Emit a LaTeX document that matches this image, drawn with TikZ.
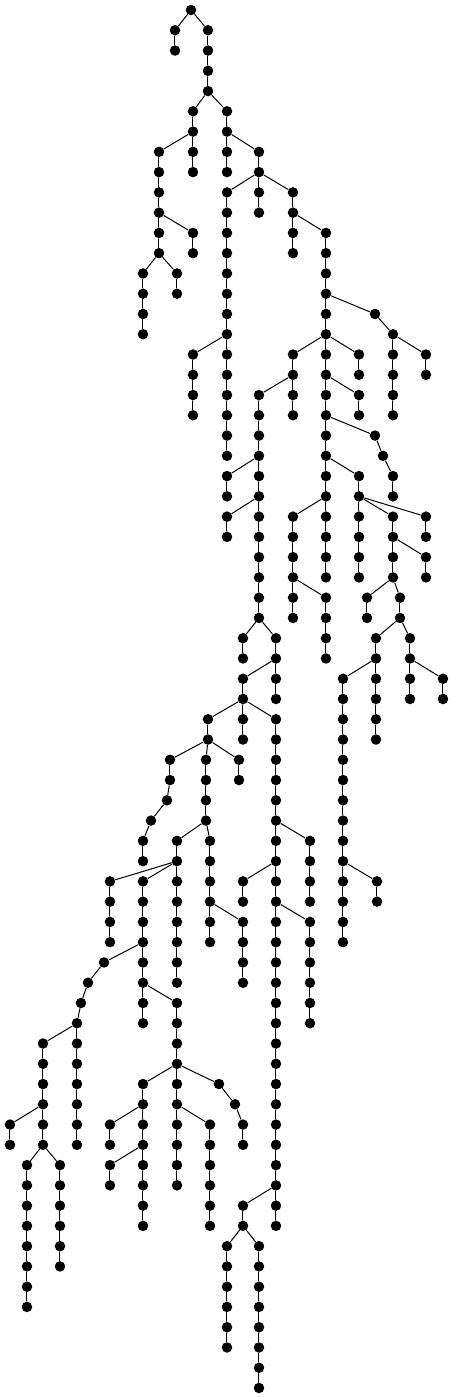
\documentclass[tikz,border=0pt]{standalone}
\begin{document}
\begin{tikzpicture}[x=1pt,y=-20.265pt,line width=1pt,line cap=round,
	dot/.style={circle,fill=black,inner sep=0pt,minimum size=10.5pt}]
	\useasboundingbox (0,-0.4935) rectangle (454,68.4935);
	\foreach \x/\a/\b in {191/0/0,175/1/2,208/1/4,193/5/8,227/5/8,259/7/10,159/7/12,193/11/12,
		143/13/16,177/13/14,227/9/22,193/17/20,293/9/12,326/11/28,375/15/15,393/16/20,426/17/18,
		359/17/18,293/17/20,259/19/30,227/23/24,227/25/26,359/19/20,375/21/21,383/22/22,393/23/24,
		359/23/28,426/25/26,393/25/28,426/27/28,367/29/30,400/29/30,376/31/36,410/31/34,443/33/34,
		343/33/46,377/43/44,293/25/30,326/29/32,243/31/32,276/31/34,243/33/36,208/35/36,239/37/38,
		170/37/38,167/39/39,151/40/40,143/41/42,206/37/40,177/41/48,110/43/46,143/43/50,210/41/46,
		243/45/48,104/47/47,88/48/48,81/49/49,77/50/56,43/51/56,10/55/56,27/57/64,60/57/62,
		177/49/58,143/53/60,110/55/56,110/57/58,210/55/60,219/53/53,235/54/54,243/55/56,
		276/35/60,310/41/44,243/43/44,310/45/50,243/59/60,227/61/66,259/61/68}{
		\foreach \l in {\a,...,\b}{
			\node[dot] (n\x-\l) at (\x,\l) {};
			\ifnum\l>\a
			\pgfmathtruncatemacro\m{\l-1}
			\draw (n\x-\m) -- (n\x-\l);
			\fi
		}
	}
	\foreach \u/\v in {191-0/175-1,191-0/208-1,208-4/193-5,208-4/227-5,193-6/159-7,227-6/259-7,
		259-8/227-9,259-8/293-9,159-10/193-11,159-12/143-13,159-12/177-13,227-16/193-17,
		293-10/326-11,326-14/375-15,375-15/393-16,393-16/426-17,326-16/293-17,326-16/359-17,
		293-18/259-19,326-18/359-19,326-20/375-21,375-21/383-22,383-22/393-23,326-22/359-23,
		259-22/227-23,259-24/227-25,326-24/293-25,359-24/393-25,359-24/426-25,393-26/426-27,
		393-28/367-29,393-28/400-29,400-30/376-31,400-30/410-31,376-32/343-33,410-32/443-33,
		343-42/377-43,293-28/326-29,259-30/243-31,259-30/276-31,276-32/243-33,243-34/208-35,
		243-34/276-35,208-36/170-37,208-36/206-37,208-36/239-37,170-38/167-39,167-39/151-40,
		151-40/143-41,206-40/177-41,206-40/210-41,177-42/110-43,177-42/143-43,210-44/243-45,
		143-46/104-47,104-47/88-48,88-48/81-49,81-49/77-50,77-50/43-51,43-54/10-55,43-56/27-57,
		43-56/60-57,143-48/177-49,177-52/143-53,177-52/219-53,177-54/210-55,143-54/110-55,
		143-56/110-57,219-53/235-54,235-54/243-55,276-40/310-41,276-42/243-43,276-44/310-45,
		276-58/243-59,243-60/227-61,243-60/259-61}
	\draw (n\u) -- (n\v);
\end{tikzpicture}
\end{document}
